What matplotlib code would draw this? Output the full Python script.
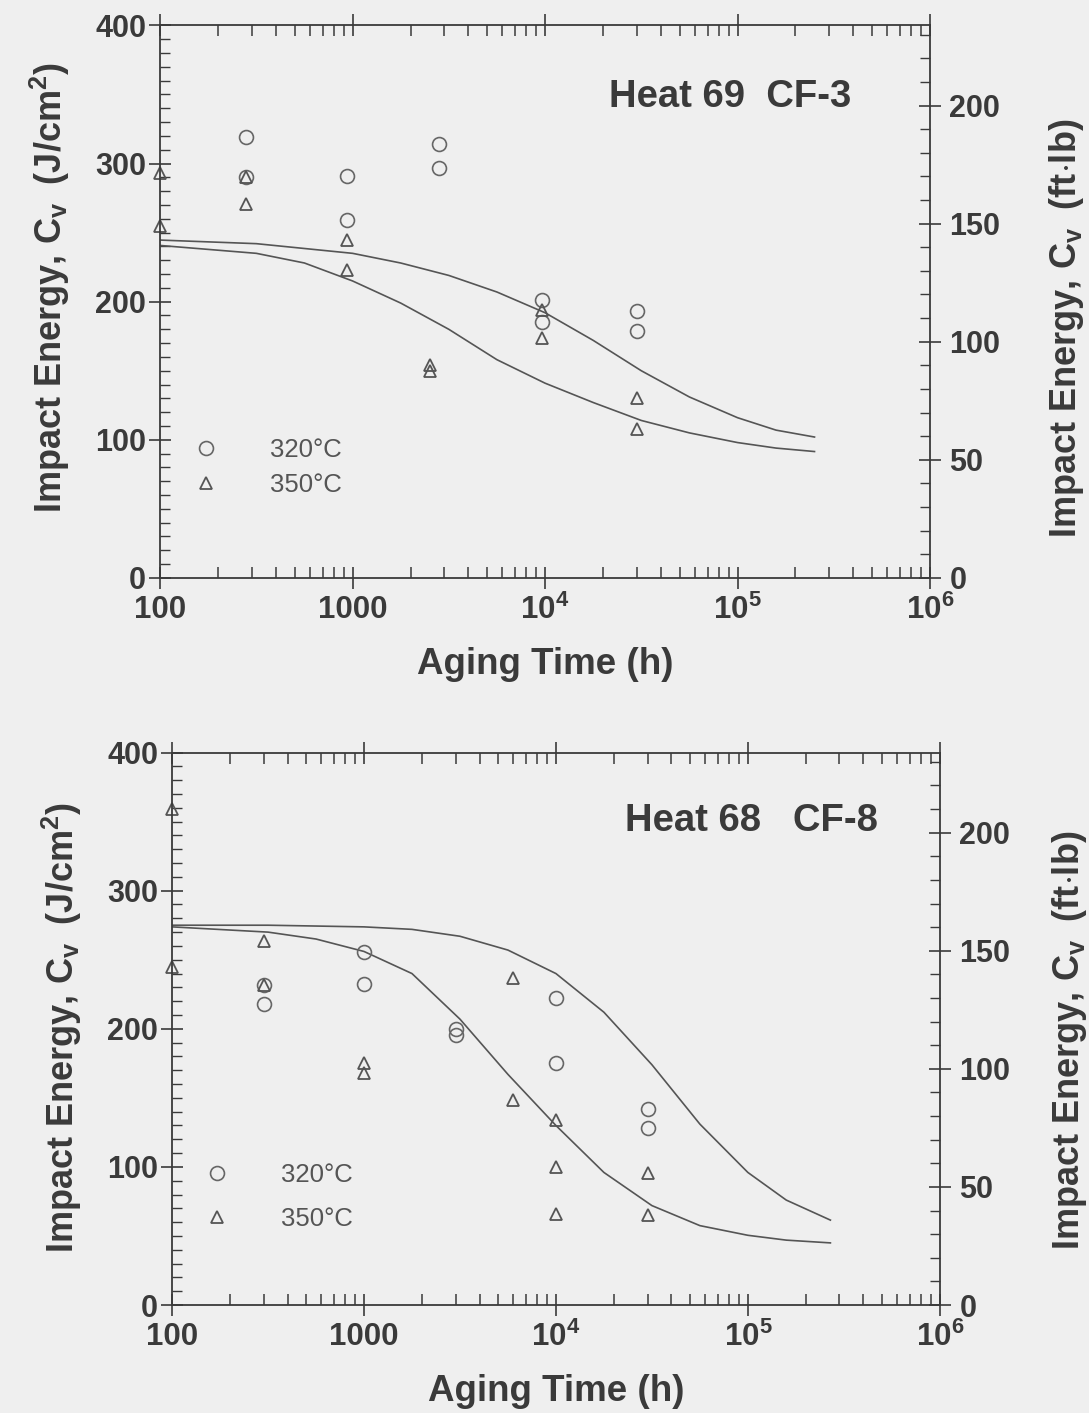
import numpy as np
import matplotlib
matplotlib.use("Agg")
import matplotlib.pyplot as plt
from matplotlib.ticker import MultipleLocator, NullFormatter, LogLocator

plt.rcParams['font.family'] = ['Liberation Sans', 'DejaVu Sans']
plt.rcParams['mathtext.fontset'] = 'custom'
plt.rcParams['mathtext.rm'] = 'Liberation Sans'
plt.rcParams['mathtext.bf'] = 'Liberation Sans:bold'
plt.rcParams['mathtext.it'] = 'Liberation Sans:italic'

INK = '#3a3a3a'
BG = '#efefef'

# ---- Heat 69 CF-3 (top panel) ----
h69_320_time = [280, 280, 940, 940, 2800, 2800, 9700, 9700, 30000, 30000]
h69_320_cv = [319, 290, 291, 259, 314, 297, 201, 185, 193, 179]
h69_350_time = [100, 100, 280, 280, 940, 940, 2540, 2540, 9700, 9700, 30000, 30000]
h69_350_cv = [293, 255, 290, 271, 245, 223, 154, 150, 194, 174, 130, 108]
# fitted curves (log10 of hours, J/cm2)
h69_upper_logt = [2.0, 2.5, 3.0, 3.25, 3.5, 3.75, 4.0, 4.25, 4.5, 4.75, 5.0, 5.2, 5.4]
h69_upper_cv = [244.6, 242, 235, 228, 219, 207, 192, 172, 150, 131, 116, 107, 102]
h69_lower_logt = [2.0, 2.5, 2.75, 3.0, 3.25, 3.5, 3.75, 4.0, 4.25, 4.5, 4.75, 5.0, 5.2, 5.4]
h69_lower_cv = [240.7, 235, 228, 215, 199, 180, 158, 141, 127, 114, 105, 98, 94, 91.5]

# ---- Heat 68 CF-8 (bottom panel) ----
h68_320_time = [300, 300, 1000, 1000, 3000, 3000, 10000, 10000, 30000, 30000]
h68_320_cv = [231.5, 217.7, 255.6, 232.7, 200, 195.3, 222.4, 175, 141.8, 128]
h68_350_time = [100, 100, 300, 300, 1000, 1000, 6000, 6000, 10000, 10000, 10000, 30000, 30000]
h68_350_cv = [359.5, 244.5, 263.6, 231.5, 175, 167.8, 236.5, 148.3, 133.8, 100.1, 65.6, 95.3, 65.1]
h68_upper_logt = [2.0, 2.5, 3.0, 3.25, 3.5, 3.75, 4.0, 4.25, 4.5, 4.75, 5.0, 5.2, 5.43]
h68_upper_cv = [275, 275, 273.8, 272, 267, 257, 240, 212, 174, 131, 96, 76, 61.5]
h68_lower_logt = [2.0, 2.5, 2.75, 3.0, 3.25, 3.5, 3.75, 4.0, 4.25, 4.5, 4.75, 5.0, 5.2, 5.43]
h68_lower_cv = [273.8, 270, 265, 256, 240, 207, 167, 130, 96, 72, 57.5, 50.5, 47, 45]

x_ticks = [1e2, 1e3, 1e4, 1e5, 1e6]
x_labels = ['100', '1000', r'$\mathbf{10^4}$', r'$\mathbf{10^5}$', r'$\mathbf{10^6}$']
J_PER_FTLB = 1.71


def draw_panel(ax, c_t, c_v, t_t, t_v, up_lt, up_cv, lo_lt, lo_cv, title, title_xy,
               leg_anchor, leg_spacing, ylab_y, rlab_x, rlab_y):
    ax.set_facecolor(BG)
    ax.plot(10 ** np.array(up_lt), up_cv, color='#555555', lw=1.2)
    ax.plot(10 ** np.array(lo_lt), lo_cv, color='#555555', lw=1.2)
    ax.plot(c_t, c_v, 'o', ms=10, mfc='none', mec='#666666', mew=1.2,
            clip_on=False, label='320°C')
    ax.plot(t_t, t_v, '^', ms=8.5, mfc='none', mec='#555555', mew=1.3,
            clip_on=False, label='350°C')

    ax.set_xscale('log')
    ax.set_xlim(100, 1e6)
    ax.set_ylim(0, 400)
    ax.set_xticks(x_ticks, labels=x_labels)
    ax.xaxis.set_minor_locator(LogLocator(base=10, subs=np.arange(2, 10)))
    ax.xaxis.set_minor_formatter(NullFormatter())
    ax.set_yticks([0, 100, 200, 300, 400])
    ax.yaxis.set_minor_locator(MultipleLocator(10))

    ax.tick_params(axis='x', which='major', direction='inout', length=16, width=1.2,
                   top=True, colors=INK, labelsize=22.5, pad=4)
    ax.tick_params(axis='x', which='minor', direction='in', length=8, width=1.1,
                   top=True, colors=INK)
    ax.tick_params(axis='y', which='major', direction='inout', length=16, width=1.2,
                   right=False, colors=INK, labelsize=22, pad=2)
    ax.tick_params(axis='y', which='minor', direction='in', length=7, width=1.0,
                   right=False, colors=INK)
    for lab in ax.get_xticklabels() + ax.get_yticklabels():
        lab.set_fontweight('bold')
    for sp in ax.spines.values():
        sp.set_color(INK)
        sp.set_linewidth(1.3)

    ax2 = ax.twinx()
    ax2.set_ylim(0, 400 / J_PER_FTLB)
    ax2.set_yticks([0, 50, 100, 150, 200])
    ax2.yaxis.set_minor_locator(MultipleLocator(10))
    ax2.tick_params(axis='y', which='major', direction='inout', length=16, width=1.2,
                    colors=INK, labelsize=22, pad=6)
    ax2.tick_params(axis='y', which='minor', direction='in', length=7, width=1.0,
                    colors=INK)
    for lab in ax2.get_yticklabels():
        lab.set_fontweight('bold')
    for sp in ax2.spines.values():
        sp.set_visible(False)

    ax.set_xlabel('Aging Time (h)', fontsize=26.5, fontweight='bold', color=INK)
    ax.xaxis.set_label_coords(0.5, -0.125)
    ax.set_ylabel(r'Impact Energy, $\mathbf{C_v}$ $\;$(J/cm$\mathbf{^2}$)', fontsize=26,
                  fontweight='bold', color=INK)
    ax.yaxis.set_label_coords(-0.115, ylab_y)
    ax2.set_ylabel(r'Impact Energy, $\mathbf{C_v}$ $\;$(ft$\cdot$lb)', fontsize=26,
                   fontweight='bold', color=INK, rotation=90)
    ax2.yaxis.set_label_coords(rlab_x, rlab_y)

    ax.text(title_xy[0], title_xy[1], title, transform=ax.transAxes, fontsize=27.5,
            fontweight='bold', color=INK, ha='center', va='center')

    leg = ax.legend(loc='upper left', bbox_to_anchor=leg_anchor, frameon=False,
                    handlelength=1.0, handletextpad=2.0, labelspacing=leg_spacing,
                    prop={'size': 18.5, 'weight': 'normal'})
    for txt in leg.get_texts():
        txt.set_color('#555555')


fig = plt.figure(figsize=(10.89, 14.13), dpi=100)
fig.patch.set_facecolor(BG)

ax_top = fig.add_axes([0.147, 0.591, 0.707, 0.391])
draw_panel(ax_top, h69_320_time, h69_320_cv, h69_350_time, h69_350_cv,
           h69_upper_logt, h69_upper_cv, h69_lower_logt, h69_lower_cv,
           'Heat 69  CF-3', (0.74, 0.87), (0.013, 0.296), 0.45, 0.526, 1.152, 0.452)

ax_bot = fig.add_axes([0.158, 0.0764, 0.705, 0.391])
draw_panel(ax_bot, h68_320_time, h68_320_cv, h68_350_time, h68_350_cv,
           h68_upper_logt, h68_upper_cv, h68_lower_logt, h68_lower_cv,
           'Heat 68   CF-8', (0.754, 0.877), (0.012, 0.2985), 0.75, 0.503, 1.143, 0.48)

fig.savefig('out.png', dpi=100, facecolor=BG)
